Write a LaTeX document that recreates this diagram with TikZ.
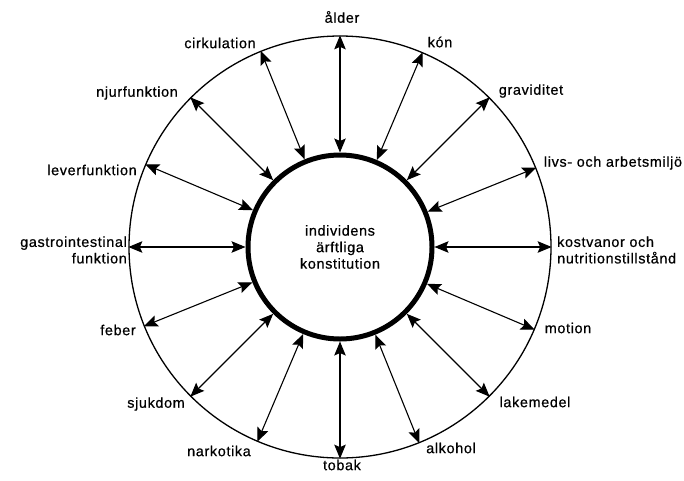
\documentclass[tikz,border=0pt]{standalone}
\usepackage{fontspec}
\setmainfont{Liberation Sans}[LetterSpace=4.5,FakeBold=0.6]
\usetikzlibrary{arrows.meta}
\begin{document}
\begin{tikzpicture}[x=1pt,y=-1pt,
  lab/.style={inner sep=0pt, font=\fontsize{14.4}{16.5}\selectfont},
  tip/.tip={Stealth[length=14pt,width=11.5pt,inset=2.5pt]},
  dbl/.style={tip-tip, line width=1.1pt}]
\useasboundingbox (0,0) rectangle (684,480);
\node[circle, draw, line width=1.3pt, minimum size=422pt, inner sep=0pt] (out) at (340,247) {};
\node[circle, draw, line width=5pt, minimum size=184pt, inner sep=0pt, lab, align=center] (in) at (340,247) {individens\\ärftliga\\konstitution};
\foreach \a in {0,22.5,...,337.5} \draw[dbl] (in.\a) -- (out.\a);
\node[lab] (t1) at (342,17) {ålder};
\node[lab] (t2) at (440,42) {kón};
\node[lab] (t3) at (531,91) {graviditet};
\node[lab] (t4) at (613,163) {livs- och arbetsmiljö};
\node[lab, align=left, anchor=west] (t5) at (557,250) {kostvanor och\\nutritionstillstånd};
\node[lab] (t6) at (568,328) {motion};
\node[lab] (t7) at (535,402) {lakemedel};
\node[lab] (t8) at (451,448) {alkohol};
\node[lab] (t9) at (342,465) {tobak};
\node[lab] (t10) at (219,451) {narkotika};
\node[lab] (t11) at (156,404) {sjukdom};
\node[lab] (t12) at (118,330) {feber};
\node[lab, align=right, anchor=east] (t13) at (127,250) {gastrointestinal\\funktion};
\node[lab] (t14) at (92,170) {leverfunktion};
\node[lab] (t15) at (137,93) {njurfunktion};
\node[lab] (t16) at (220,43) {cirkulation};
\end{tikzpicture}
\end{document}
